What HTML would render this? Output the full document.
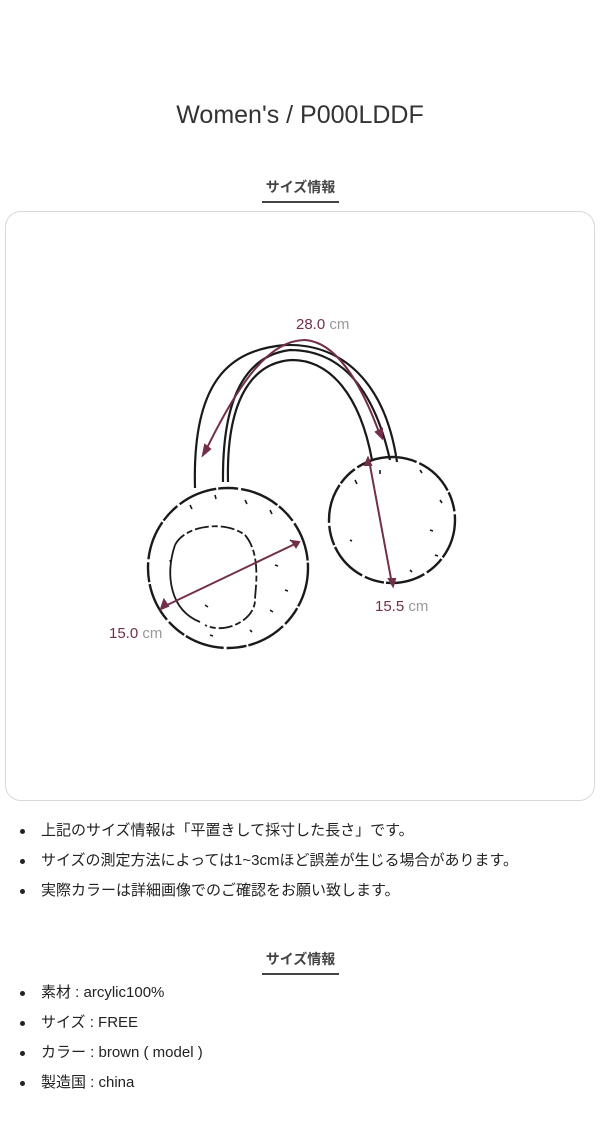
<!DOCTYPE html>
<html><head><meta charset="utf-8"><style>
body{margin:0;width:600px;height:1128px;background:#fff;font-family:"Liberation Sans","Noto Sans CJK JP",sans-serif;color:#333;position:relative;overflow:hidden}
.t{position:absolute;left:0;width:600px;text-align:center}
.h{position:absolute;left:262px;width:77px;text-align:center;font-size:14px;font-weight:bold;color:#444;border-bottom:2px solid #444;padding-bottom:4px}
.box{position:absolute;left:5px;top:211px;width:588px;height:588px;border:1px solid #d8d8d8;border-radius:16px}
ul{position:absolute;left:0;margin:0;padding:0;list-style:none;font-size:15px;color:#222}
li{position:relative;padding-left:41px;height:30px;line-height:20px}
li:before{content:"";position:absolute;left:20px;top:8px;width:5px;height:5px;border-radius:50%;background:#222}
</style></head><body>
<div class="t" style="top:101px;font-size:25px;color:#333">Women's / P000LDDF</div>
<div class="h" style="top:177px">サイズ情報</div>
<div class="box"></div>
<svg style="position:absolute;left:0;top:0" width="600" height="1128">
<g fill="none" stroke="#1a1a1a" stroke-width="2.2">
<path d="M195 488 C192 380 230 350 285 345 C340 343 385 380 397 462"/>
<path d="M223 482 C222 390 250 355 290 350 C335 350 372 380 390 460"/>
<path d="M228 482 C226 395 255 362 292 360 C330 360 360 395 372 460"/>
<circle cx="228" cy="568" r="80" stroke-dasharray="40 2 20 3" stroke-width="2.4"/>
<path d="M175 545 C185 525 225 520 245 535 C262 555 255 590 255 600 C255 620 225 635 205 625" stroke-dasharray="14 3 6 3" stroke-width="1.8"/>
<path d="M175 545 C165 575 170 610 200 622" stroke-width="1.8"/>
<circle cx="392" cy="520" r="63" stroke-dasharray="40 2 20 3" stroke-width="2.4"/>
</g>
<g stroke="#1a1a1a" stroke-width="1.6">
<path d="M190 505l2 4M215 495l1 4M245 500l2 4M270 510l2 4M290 540l3 2M275 565l3 1M285 590l3 1M270 610l3 2M250 630l2 2M210 635l3 1M205 605l3 2M170 560l1 3M355 480l2 4M380 470l0 4M420 470l2 3M440 500l2 3M430 530l3 1M435 555l3 1M410 570l2 2M350 540l2 1"/>
</g>
<g stroke="#722f4a" stroke-width="2" fill="#722f4a">
<path d="M205 452 C240 380 270 340 305 340 C335 342 360 380 380 435" fill="none"/>
<path d="M203 455l2-10 5 4z M382 438l-6-6 6-3z"/>
<line x1="163" y1="607" x2="297" y2="543"/>
<path d="M161 609l3-9 4 6z M299 542l-7-1 4 6z"/>
<line x1="369" y1="460" x2="392" y2="584"/>
<path d="M368 458l-3 7 6 0z M393 586l-4-7 6 0z"/>
</g>
<g font-size="15" font-family="Liberation Sans,sans-serif">
<text x="296" y="329" fill="#722f4a">28.0 <tspan fill="#999">cm</tspan></text>
<text x="109" y="638" fill="#722f4a">15.0 <tspan fill="#999">cm</tspan></text>
<text x="375" y="611" fill="#722f4a">15.5 <tspan fill="#999">cm</tspan></text>
</g>
</svg>
<ul style="top:821px">
<li>上記のサイズ情報は「平置きして採寸した長さ」です。</li>
<li>サイズの測定方法によっては1~3cmほど誤差が生じる場合があります。</li>
<li>実際カラーは詳細画像でのご確認をお願い致します。</li>
</ul>
<div class="h" style="top:949px">サイズ情報</div>
<ul style="top:983px">
<li>素材 : arcylic100%</li>
<li>サイズ : FREE</li>
<li>カラー : brown ( model )</li>
<li>製造国 : china</li>
</ul>
</body></html>
